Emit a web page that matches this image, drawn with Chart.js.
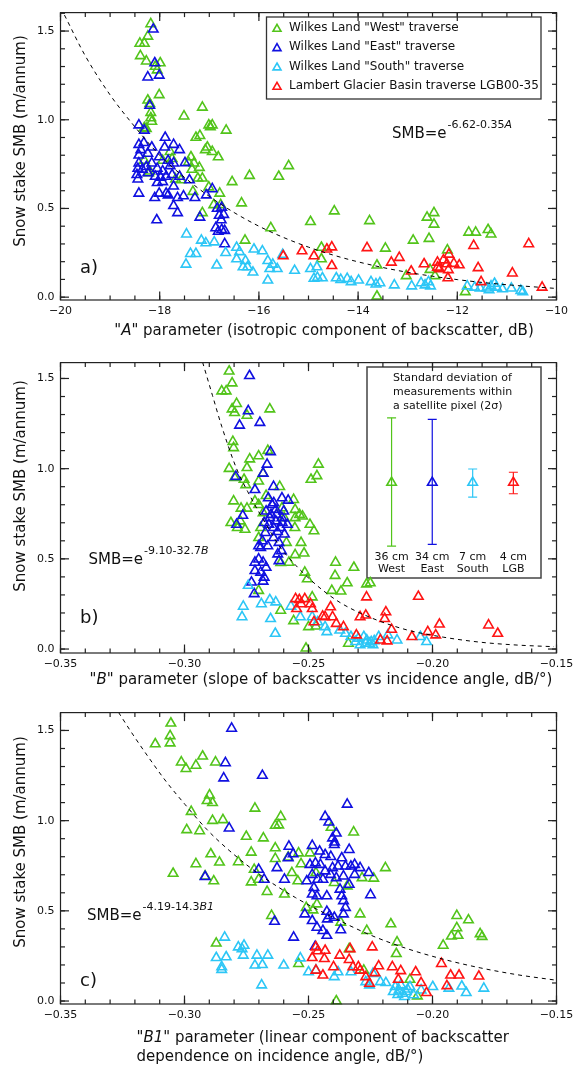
<!DOCTYPE html>
<html>
<head>
<meta charset="utf-8">
<script src="https://cdn.jsdelivr.net/npm/chart.js@4.4.1/dist/chart.umd.min.js"></script>
<style>
  body { margin: 0; background: #fff; }
  .panel { position: absolute; left: 0; }
</style>
</head>
<body>
<canvas id="chartA" class="panel" width="579" height="345" style="top:0px"></canvas>
<canvas id="chartB" class="panel" width="579" height="345" style="top:350px"></canvas>
<canvas id="chartC" class="panel" width="579" height="368" style="top:700px"></canvas>
<script>
// series names and colours
const seriesNames = ['Wilkes Land "West" traverse', 'Wilkes Land "East" traverse', 'Wilkes Land "South" traverse', 'Lambert Glacier Basin traverse LGB00-35'];
const seriesColors = ['#52c41a', '#1010e0', '#2cc6f6', '#ff1414'];

const yTicks = [0, 0.5, 1.0, 1.5];
const xTicksA = [-20, -18, -16, -14, -12, -10];
const xTicksB = [-0.35, -0.30, -0.25, -0.20, -0.15];

// ---- panel a : A parameter (dB) vs SMB ----
const westA = [[-18.18,1.54],[-18.24,1.47],[-18.31,1.43],[-18.40,1.43],[-18.39,1.36],[-18.27,1.33],[-18.09,1.30],[-17.99,1.32],[-18.05,1.28],
  [-18.01,1.14],[-18.24,1.11],[-18.20,1.09],[-18.18,1.04],[-18.18,1.01],[-18.16,0.99],[-18.27,0.95],[-18.31,0.955],
  [-17.14,1.07],[-17.51,1.02],[-17.01,0.97],[-16.94,0.97],[-16.98,0.96],[-16.66,0.94],[-17.19,0.91],[-17.27,0.90],[-17.04,0.845],
  [-17.08,0.83],[-16.94,0.82],[-16.82,0.79],[-17.79,0.82],[-17.94,0.77],[-18.31,0.77],[-17.37,0.79],[-17.42,0.76],[-17.31,0.755],
  [-17.35,0.72],[-17.20,0.73],[-18.20,0.71],[-18.22,0.70],[-17.57,0.66],[-17.68,0.665],[-17.75,0.78],[-17.23,0.67],[-17.14,0.67],
  [-16.54,0.65],[-16.19,0.685],[-15.60,0.68],[-15.40,0.74],[-17.33,0.595],[-17.01,0.62],[-16.79,0.585],[-16.91,0.52],[-16.77,0.52],
  [-17.14,0.475],[-16.35,0.53],[-16.28,0.32],[-15.76,0.39],[-14.96,0.425],[-14.48,0.485],[-13.77,0.43],[-14.74,0.28],[-14.74,0.215],
  [-13.45,0.275],[-13.62,0.18],[-13.62,0.005],[-13.03,0.12],[-12.89,0.32],[-12.61,0.45],[-12.47,0.475],[-12.47,0.41],[-12.57,0.33],
  [-12.55,0.155],[-12.45,0.12],[-12.20,0.265],[-11.77,0.365],[-11.63,0.365],[-11.38,0.38],[-11.32,0.355],[-11.84,0.03]];
const eastA = [[-18.13,1.51],[-18.10,1.32],[-18.24,1.24],[-18.01,1.25],[-18.20,1.08],[-18.42,0.97],[-18.31,0.94],[-17.89,0.90],
  [-17.72,0.86],[-17.60,0.83],[-18.42,0.86],[-18.32,0.87],[-18.16,0.845],[-18.38,0.83],[-18.42,0.80],[-18.24,0.81],[-18.01,0.79],
  [-17.90,0.845],[-17.83,0.77],[-17.72,0.755],[-17.79,0.74],[-18.42,0.755],[-18.44,0.725],[-18.35,0.72],[-18.27,0.735],[-18.16,0.755],
  [-18.05,0.725],[-18.09,0.68],[-17.98,0.675],[-17.87,0.68],[-17.75,0.69],[-17.60,0.68],[-17.94,0.71],[-18.46,0.69],[-18.44,0.665],
  [-17.94,0.65],[-18.05,0.645],[-18.24,0.70],[-17.72,0.625],[-17.49,0.757],[-17.40,0.66],[-18.42,0.585],[-18.10,0.56],[-18.01,0.585],
  [-17.87,0.585],[-17.83,0.575],[-17.72,0.515],[-17.64,0.56],[-17.52,0.57],[-17.29,0.56],[-17.06,0.575],[-16.94,0.61],[-17.64,0.475],
  [-17.19,0.45],[-18.06,0.435],[-16.84,0.50],[-16.75,0.505],[-16.80,0.46],[-16.71,0.465],[-16.76,0.435],[-16.87,0.39],[-16.75,0.38],
  [-16.69,0.375],[-16.82,0.37],[-16.69,0.30]];
const southA = [[-17.46,0.355],[-17.38,0.245],[-17.27,0.245],[-17.47,0.185],[-17.16,0.32],[-17.07,0.305],[-16.90,0.31],[-16.85,0.18],
  [-16.67,0.25],[-16.45,0.28],[-16.39,0.255],[-16.45,0.215],[-16.27,0.205],[-16.32,0.17],[-16.23,0.17],[-16.12,0.14],[-16.10,0.27],
  [-15.93,0.26],[-15.82,0.205],[-15.72,0.185],[-15.78,0.16],[-15.63,0.16],[-15.82,0.095],[-15.52,0.24],[-15.28,0.15],[-14.96,0.16],
  [-14.83,0.17],[-14.89,0.105],[-14.82,0.11],[-14.72,0.108],[-14.44,0.108],[-14.35,0.099],[-14.22,0.104],[-14.14,0.086],[-13.99,0.095],
  [-13.74,0.086],[-13.56,0.08],[-13.64,0.073],[-13.27,0.068],[-12.92,0.062],[-12.73,0.08],[-12.65,0.068],[-12.54,0.062],[-12.58,0.086],
  [-11.80,0.062],[-11.65,0.055],[-11.54,0.05],[-11.41,0.05],[-11.32,0.062],[-11.21,0.055],[-11.09,0.046],[-10.91,0.05],[-10.72,0.037],
  [-10.68,0.03],[-11.25,0.077],[-11.36,0.04]];
const lgbA = [[-15.51,0.232],[-15.13,0.26],[-14.89,0.232],[-14.63,0.27],[-14.53,0.282],[-14.53,0.177],[-13.82,0.278],[-13.33,0.196],
  [-13.17,0.223],[-12.93,0.146],[-12.67,0.187],[-12.40,0.196],[-12.28,0.209],[-12.21,0.187],[-12.36,0.159],[-12.40,0.168],[-12.17,0.241],
  [-12.18,0.154],[-12.19,0.108],[-12.07,0.19],[-11.96,0.181],[-11.67,0.29],[-11.58,0.165],[-11.52,0.086],[-10.89,0.135],[-10.56,0.30],
  [-10.29,0.055]];
const fitA = [[-19.92,1.59],[-19.5,1.36],[-19.0,1.14],[-18.5,0.96],[-18.0,0.80],[-17.5,0.675],[-17.0,0.568],[-16.5,0.477],[-16.0,0.40],
  [-15.5,0.336],[-15.0,0.282],[-14.5,0.237],[-14.0,0.199],[-13.5,0.167],[-13.0,0.14],[-12.5,0.118],[-12.0,0.099],[-11.5,0.083],
  [-11.0,0.07],[-10.5,0.059],[-10.05,0.05]];

// ---- panel b : B parameter (dB/deg) vs SMB ----
const westB = [[-0.2820,1.54],[-0.2808,1.474],[-0.2850,1.43],[-0.2832,1.43],[-0.2790,1.36],[-0.2808,1.33],[-0.2798,1.31],[-0.2748,1.295],
  [-0.2656,1.33],[-0.2805,1.15],[-0.2802,1.115],[-0.2820,1.00],[-0.2748,1.005],[-0.2737,1.053],[-0.2701,1.07],[-0.2664,1.10],
  [-0.2798,0.95],[-0.2760,0.94],[-0.2753,0.91],[-0.2683,0.974],[-0.2701,0.93],[-0.2616,0.90],[-0.2460,1.024],[-0.2466,0.96],[-0.2490,0.94],
  [-0.2802,0.82],[-0.2772,0.78],[-0.2748,0.78],[-0.2716,0.82],[-0.2671,0.85],[-0.2701,0.80],[-0.2683,0.755],[-0.2813,0.70],[-0.2787,0.672],
  [-0.2775,0.709],[-0.2756,0.663],[-0.2693,0.672],[-0.2560,0.828],[-0.2554,0.773],[-0.2536,0.745],[-0.2524,0.736],[-0.2494,0.69],
  [-0.2478,0.654],[-0.2554,0.727],[-0.2598,0.727],[-0.2607,0.782],[-0.2555,0.672],[-0.2701,0.617],[-0.2589,0.59],[-0.2530,0.59],
  [-0.2554,0.522],[-0.2518,0.531],[-0.2579,0.48],[-0.2612,0.478],[-0.2515,0.425],[-0.2505,0.388],[-0.2391,0.48],[-0.2393,0.407],
  [-0.2317,0.452],[-0.2406,0.324],[-0.2344,0.366],[-0.2369,0.32],[-0.2266,0.36],[-0.2251,0.366],[-0.2485,0.288],[-0.2701,0.324],
  [-0.2612,0.214],[-0.2560,0.156],[-0.2500,0.123],[-0.2470,0.126],[-0.2510,0.004],[-0.2339,0.031]];
const eastB = [[-0.2738,1.515],[-0.2743,1.32],[-0.2778,1.24],[-0.2696,1.255],[-0.2653,1.093],[-0.2667,1.024],[-0.2793,0.956],[-0.2683,0.974],
  [-0.2765,0.74],[-0.2790,0.69],[-0.2716,0.883],[-0.2641,0.90],[-0.2662,0.837],[-0.2647,0.80],[-0.2632,0.773],[-0.2607,0.837],[-0.2582,0.824],
  [-0.2671,0.764],[-0.2656,0.727],[-0.2632,0.709],[-0.2607,0.727],[-0.2585,0.69],[-0.2679,0.70],[-0.2641,0.672],[-0.2612,0.672],
  [-0.2674,0.645],[-0.2686,0.599],[-0.2664,0.571],[-0.2701,0.571],[-0.2641,0.617],[-0.2619,0.59],[-0.2609,0.544],[-0.2624,0.526],
  [-0.2693,0.562],[-0.2716,0.48],[-0.2701,0.498],[-0.2683,0.48],[-0.2671,0.452],[-0.2679,0.397],[-0.2716,0.434],[-0.2693,0.425],
  [-0.2730,0.37],[-0.2683,0.375],[-0.2719,0.306],[-0.2619,0.489],[-0.2600,0.764],[-0.2597,0.636],[-0.2651,0.745],[-0.2629,0.745],
  [-0.2640,0.81],[-0.2660,0.69],[-0.2625,0.65],[-0.2606,0.70]];
const southB = [[-0.2743,0.352],[-0.2763,0.236],[-0.2768,0.178],[-0.2690,0.25],[-0.2656,0.273],[-0.2632,0.26],[-0.2653,0.168],[-0.2634,0.086],
  [-0.2571,0.236],[-0.2533,0.178],[-0.2485,0.178],[-0.2463,0.15],[-0.2433,0.123],[-0.2426,0.095],[-0.2374,0.104],[-0.2351,0.086],
  [-0.2329,0.068],[-0.2299,0.059],[-0.2277,0.068],[-0.2265,0.049],[-0.2247,0.04],[-0.2269,0.031],[-0.2240,0.022],[-0.2217,0.068],
  [-0.2180,0.077],[-0.2143,0.049],[-0.2049,0.068],[-0.2024,0.04],[-0.2292,0.022],[-0.2254,0.031],[-0.2310,0.04],[-0.2235,0.045]];
const lgbB = [[-0.2552,0.278],[-0.2537,0.273],[-0.2515,0.278],[-0.2492,0.25],[-0.2485,0.223],[-0.2548,0.223],[-0.2530,0.25],[-0.2478,0.15],
  [-0.2443,0.181],[-0.2433,0.178],[-0.2411,0.233],[-0.2403,0.178],[-0.2388,0.141],[-0.2359,0.123],[-0.2307,0.077],[-0.2292,0.178],
  [-0.2269,0.187],[-0.2266,0.288],[-0.2188,0.205],[-0.2193,0.168],[-0.2165,0.108],[-0.2210,0.049],[-0.2183,0.044],[-0.2083,0.068],
  [-0.2057,0.291],[-0.2019,0.095],[-0.1987,0.077],[-0.1972,0.137],[-0.1774,0.132],[-0.1737,0.086]];
const fitB = [[-0.2927,1.59],[-0.2887,1.405],[-0.2850,1.235],[-0.2790,1.0],[-0.2746,0.875],[-0.2649,0.64],[-0.2612,0.56],[-0.2552,0.465],
  [-0.2507,0.403],[-0.2448,0.332],[-0.2373,0.258],[-0.2254,0.177],[-0.2106,0.107],[-0.1957,0.066],[-0.1808,0.038],[-0.1659,0.022],
  [-0.1510,0.013]];
// inset: 2-sigma spread within a satellite pixel
const spreadLabels = [['36 cm', 'West'], ['34 cm', 'East'], ['7 cm', 'South'], ['4 cm', 'LGB']];
const spreadX = [-0.2165, -0.2001, -0.1838, -0.1674];
const spreadMid = [0.923, 0.923, 0.923, 0.923];
const spreadLow = [0.571, 0.58, 0.842, 0.861];
const spreadHigh = [1.282, 1.273, 0.998, 0.98];

// ---- panel c : B1 parameter vs SMB ----
const westC = [[-0.3055,1.54],[-0.3058,1.47],[-0.3058,1.43],[-0.3118,1.425],[-0.2927,1.357],[-0.3013,1.324],[-0.2994,1.288],[-0.2954,1.306],
  [-0.2875,1.324],[-0.2899,1.141],[-0.2909,1.11],[-0.2887,1.099],[-0.2973,1.05],[-0.2991,0.949],[-0.2939,0.943],[-0.2887,1.0],[-0.2845,1.004],
  [-0.2716,1.068],[-0.2682,0.903],[-0.2612,1.022],[-0.2634,0.973],[-0.2620,0.975],[-0.2751,0.912],[-0.2894,0.815],[-0.2954,0.76],[-0.2859,0.769],
  [-0.2783,0.771],[-0.2731,0.824],[-0.2719,0.729],[-0.2701,0.674],[-0.2731,0.659],[-0.2917,0.692],[-0.2882,0.665],[-0.3046,0.707],
  [-0.2667,0.606],[-0.2597,0.592],[-0.2634,0.848],[-0.2634,0.789],[-0.2582,0.797],[-0.2540,0.82],[-0.2530,0.76],[-0.2567,0.711],
  [-0.2543,0.665],[-0.2494,0.82],[-0.2470,0.711],[-0.2509,0.518],[-0.2466,0.537],[-0.2482,0.504],[-0.2649,0.473],[-0.2409,0.962],
  [-0.2318,0.936],[-0.2396,0.656],[-0.2344,0.637],[-0.2284,0.683],[-0.2237,0.68],[-0.2190,0.738],[-0.2292,0.482],[-0.2370,0.436],
  [-0.2265,0.39],[-0.2168,0.427],[-0.2143,0.326],[-0.2146,0.262],[-0.2336,0.289],[-0.2277,0.17],[-0.2091,0.119],[-0.2061,0.027],
  [-0.2388,0.0],[-0.2540,0.207],[-0.2872,0.32],[-0.1957,0.308],[-0.1902,0.473],[-0.1902,0.405],[-0.1897,0.363],[-0.1924,0.359],
  [-0.1855,0.449],[-0.1808,0.372],[-0.1800,0.357]];
const eastC = [[-0.2810,1.511],[-0.2835,1.32],[-0.2842,1.236],[-0.2686,1.25],[-0.2820,0.958],[-0.2344,1.09],[-0.2433,1.022],[-0.2418,0.991],
  [-0.2917,0.689],[-0.2701,0.729],[-0.2679,0.674],[-0.2627,0.738],[-0.2597,0.674],[-0.2579,0.857],[-0.2582,0.793],[-0.2562,0.815],
  [-0.2485,0.861],[-0.2455,0.83],[-0.2433,0.811],[-0.2403,0.903],[-0.2396,0.866],[-0.2388,0.93],[-0.2336,0.839],[-0.2366,0.793],
  [-0.2494,0.756],[-0.2472,0.765],[-0.2452,0.756],[-0.2433,0.72],[-0.2403,0.738],[-0.2381,0.747],[-0.2351,0.747],[-0.2329,0.747],
  [-0.2314,0.756],[-0.2292,0.738],[-0.2257,0.711],[-0.2485,0.701],[-0.2463,0.674],[-0.2442,0.674],[-0.2411,0.701],[-0.2388,0.683],
  [-0.2359,0.692],[-0.2336,0.646],[-0.2314,0.701],[-0.2507,0.665],[-0.2478,0.628],[-0.2485,0.592],[-0.2466,0.582],[-0.2426,0.582],
  [-0.2373,0.619],[-0.2366,0.582],[-0.2359,0.555],[-0.2351,0.518],[-0.2359,0.482],[-0.2426,0.496],[-0.2415,0.473],[-0.2396,0.463],
  [-0.2424,0.454],[-0.2515,0.482],[-0.2485,0.445],[-0.2466,0.408],[-0.2442,0.39],[-0.2426,0.363],[-0.2370,0.394],[-0.2250,0.588],
  [-0.2637,0.441],[-0.2560,0.353],[-0.2473,0.302],[-0.2410,0.80],[-0.2395,0.88]];
const southC = [[-0.2838,0.353],[-0.2872,0.24],[-0.2832,0.244],[-0.2850,0.189],[-0.2850,0.174],[-0.2783,0.299],[-0.2768,0.289],[-0.2760,0.308],
  [-0.2763,0.253],[-0.2708,0.253],[-0.2686,0.201],[-0.2716,0.198],[-0.2664,0.253],[-0.2689,0.088],[-0.2600,0.198],[-0.2533,0.238],
  [-0.2500,0.161],[-0.2470,0.17],[-0.2396,0.134],[-0.2381,0.161],[-0.2329,0.161],[-0.2269,0.106],[-0.2240,0.152],[-0.2210,0.106],
  [-0.2188,0.101],[-0.2150,0.079],[-0.2135,0.06],[-0.2120,0.042],[-0.2106,0.051],[-0.2091,0.079],[-0.2128,0.088],[-0.2158,0.051],
  [-0.2113,0.024],[-0.2076,0.033],[-0.2046,0.06],[-0.1999,0.079],[-0.1934,0.07],[-0.1882,0.082],[-0.1864,0.046],[-0.1793,0.07],
  [-0.2254,0.088],[-0.2140,0.035],[-0.2100,0.065]];
const lgbC = [[-0.2470,0.299],[-0.2463,0.277],[-0.2485,0.24],[-0.2433,0.28],[-0.2436,0.234],[-0.2470,0.17],[-0.2442,0.143],[-0.2399,0.189],
  [-0.2374,0.253],[-0.2336,0.229],[-0.2332,0.289],[-0.2321,0.189],[-0.2299,0.189],[-0.2292,0.17],[-0.2269,0.134],[-0.2254,0.097],
  [-0.2243,0.299],[-0.2232,0.156],[-0.2217,0.194],[-0.2162,0.189],[-0.2128,0.167],[-0.2138,0.119],[-0.2068,0.161],[-0.2046,0.101],
  [-0.2024,0.046],[-0.1964,0.207],[-0.1927,0.143],[-0.1893,0.143],[-0.1942,0.084],[-0.1813,0.137]];
const fitC = [[-0.3266,1.60],[-0.3207,1.475],[-0.3147,1.355],[-0.3073,1.215],[-0.2998,1.09],[-0.2909,0.95],[-0.2820,0.835],[-0.2701,0.705],
  [-0.2552,0.573],[-0.2403,0.465],[-0.2254,0.368],[-0.2106,0.292],[-0.1957,0.232],[-0.1808,0.184],[-0.1659,0.146],[-0.1510,0.117]];

const FONT = '"DejaVu Sans", sans-serif';
const INK = '#111';

function toPts(arr) {
  return arr.map(p => ({x: p[0], y: p[1]}));
}

function fmtNum(v, digits) {
  return (v < 0 ? '\u2212' : '') + Math.abs(v).toFixed(digits);
}

// draws text made of plain / italic pieces
function richText(ctx, parts, x, y, size, align) {
  let w = 0;
  parts.forEach(p => {
    ctx.font = (p[1] ? 'italic ' : '') + size + 'px ' + FONT;
    w += ctx.measureText(p[0]).width;
  });
  let cx = align === 'center' ? x - w / 2 : x;
  ctx.textAlign = 'left';
  ctx.textBaseline = 'middle';
  parts.forEach(p => {
    ctx.font = (p[1] ? 'italic ' : '') + size + 'px ' + FONT;
    ctx.fillText(p[0], cx, y);
    cx += ctx.measureText(p[0]).width;
  });
  return cx;
}

function triangle(ctx, x, y, r, color) {
  ctx.beginPath();
  for (let k = 0; k < 3; k++) {
    const a = k * 2 * Math.PI / 3;
    const px = x + Math.sin(a) * r, py = y - Math.cos(a) * r;
    k === 0 ? ctx.moveTo(px, py) : ctx.lineTo(px, py);
  }
  ctx.closePath();
  ctx.strokeStyle = color;
  ctx.lineWidth = 1.6;
  ctx.stroke();
}

// frame, inward ticks and annotation text
function decor(p) {
  return {
    id: 'decor',
    beforeDatasetsDraw(chart) {
      if (!p.inset) return;
      const ctx = chart.ctx;
      ctx.save();
      ctx.fillStyle = '#fff';
      ctx.fillRect(367, 17, 174, 211);
      ctx.strokeStyle = '#444';
      ctx.lineWidth = 1.5;
      ctx.strokeRect(367, 17, 174, 211);
      ctx.fillStyle = INK;
      ctx.font = '11px ' + FONT;
      ctx.textAlign = 'left';
      ctx.textBaseline = 'middle';
      ['Standard deviation of', 'measurements within', 'a satellite pixel (2\u03c3)'].forEach((t, i) => ctx.fillText(t, 393, 28 + i * 14));
      ctx.textAlign = 'center';
      spreadLabels.forEach((lab, i) => {
        const px = chart.scales.x.getPixelForValue(spreadX[i]);
        ctx.fillText(lab[0], px, 207);
        ctx.fillText(lab[1], px, 219);
      });
      ctx.restore();
    },
    afterDraw(chart) {
      const {ctx, chartArea: a, scales: {x, y}} = chart;
      ctx.save();
      ctx.strokeStyle = '#222';
      ctx.lineWidth = 1.2;
      const seg = (x1, y1, x2, y2) => { ctx.beginPath(); ctx.moveTo(x1, y1); ctx.lineTo(x2, y2); ctx.stroke(); };
      const ticksOn = (scale, step, len, horiz) => {
        const n0 = Math.ceil(scale.min / step - 1e-6), n1 = Math.floor(scale.max / step + 1e-6);
        for (let n = n0; n <= n1; n++) {
          const px = scale.getPixelForValue(n * step);
          if (horiz) { seg(px, a.bottom, px, a.bottom - len); seg(px, a.top, px, a.top + len); }
          else { seg(a.left, px, a.left + len, px); seg(a.right, px, a.right - len, px); }
        }
      };
      ticksOn(x, p.xMinor, 4.5, true);
      ticksOn(x, p.xMajor, 8.5, true);
      ticksOn(y, 0.1, 4.5, false);
      ticksOn(y, 0.5, 8.5, false);
      ctx.strokeRect(a.left, a.top, a.right - a.left, a.bottom - a.top);

      ctx.fillStyle = INK;
      // y title
      ctx.save();
      ctx.translate(21, p.yTitleY);
      ctx.rotate(-Math.PI / 2);
      richText(ctx, [['Snow stake SMB (m/annum)', 0]], 0, 0, 15, 'center');
      ctx.restore();
      // x title
      p.xTitle.forEach((line, i) => richText(ctx, line, p.xTitleX, p.xTitleY + i * 19, 15, p.xTitleAlign));
      // panel letter
      richText(ctx, [[p.letter, 0]], 80, p.letterY, 18, 'left');
      // fit equation
      const ex = richText(ctx, [['SMB=e', 0]], p.eq[0], p.eq[1], 15, 'left');
      richText(ctx, p.eqSup, ex + 1, p.eq[1] - 9, 11, 'left');
      // legend
      if (p.legend) {
        ctx.strokeStyle = '#333';
        ctx.lineWidth = 1.3;
        ctx.strokeRect(266.5, 17, 274.5, 82);
        seriesNames.forEach((name, i) => {
          const cy = 28 + i * 19.3;
          triangle(ctx, 277, cy + 1, 4.6, seriesColors[i]);
          ctx.fillStyle = INK;
          richText(ctx, [[name, 0]], 289, cy, 12, 'left');
        });
      }
      ctx.restore();
    }
  };
}

function scatterSet(i, arr) {
  return {
    type: 'scatter',
    label: seriesNames[i],
    data: toPts(arr),
    pointStyle: 'triangle',
    pointRadius: 5.5,
    pointBorderWidth: 1.6,
    pointBorderColor: seriesColors[i],
    pointBackgroundColor: 'rgba(0,0,0,0)',
    clip: false,
    order: 4 - i
  };
}

function fitSet(arr) {
  return {
    type: 'line',
    data: toPts(arr),
    borderColor: '#000',
    borderWidth: 1,
    borderDash: [4, 4],
    pointRadius: 0,
    cubicInterpolationMode: 'monotone',
    order: 0
  };
}

function makePanel(id, p) {
  const datasets = [scatterSet(0, p.series[0]), scatterSet(1, p.series[1]), scatterSet(2, p.series[2]), scatterSet(3, p.series[3]), fitSet(p.fit)];
  if (p.inset) {
    spreadX.forEach((sx, i) => {
      datasets.push({
        type: 'line',
        data: [{x: sx, y: spreadLow[i]}, {x: sx, y: spreadMid[i]}, {x: sx, y: spreadHigh[i]}],
        borderColor: seriesColors[i],
        borderWidth: 1.2,
        pointStyle: ['line', 'triangle', 'line'],
        pointRadius: [4.5, 5.5, 4.5],
        pointBorderWidth: [1.2, 1.6, 1.2],
        pointBorderColor: seriesColors[i],
        pointBackgroundColor: 'rgba(0,0,0,0)',
        order: -1
      });
    });
  }
  new Chart(document.getElementById(id), {
    type: 'scatter',
    data: {datasets},
    options: {
      responsive: false,
      animation: false,
      layout: {padding: {top: p.top, right: 22.5, left: 0, bottom: 0}},
      plugins: {legend: {display: false}, tooltip: {enabled: false}},
      scales: {
        x: {
          type: 'linear', min: p.xMin, max: p.xMax,
          grid: {display: false, drawTicks: false, tickLength: 0},
          border: {display: false},
          ticks: {font: {family: FONT, size: 11}, color: INK, padding: 5, maxRotation: 0, autoSkip: false,
                  callback: v => fmtNum(v, p.xDigits)},
          afterBuildTicks: s => { s.ticks = p.xTicks.map(v => ({value: v})); },
          afterFit: s => { s.height = p.xh; }
        },
        y: {
          type: 'linear', min: p.yMin, max: p.yMax,
          grid: {display: false, drawTicks: false, tickLength: 0},
          border: {display: false},
          ticks: {font: {family: FONT, size: 11}, color: INK, padding: 6, callback: v => v.toFixed(1)},
          afterBuildTicks: s => { s.ticks = yTicks.map(v => ({value: v})); },
          afterFit: s => { s.width = 60.5; }
        }
      }
    },
    plugins: [decor(p)]
  });
}

makePanel('chartA', {
  series: [westA, eastA, southA, lgbA], fit: fitA,
  xMin: -20, xMax: -10, xTicks: xTicksA, xDigits: 0, xMajor: 2, xMinor: 0.5,
  yMin: -0.016, yMax: 1.604, top: 5, xh: 45,
  yTitleY: 141, xTitleX: 324, xTitleY: 331, xTitleAlign: 'center',
  xTitle: [[['"', 0], ['A', 1], ['" parameter (isotropic component of backscatter, dB)', 0]]],
  letter: 'a)', letterY: 268, eq: [392, 134], eqSup: [['-6.62-0.35', 0], ['A', 1]], legend: true
});

makePanel('chartB', {
  series: [westB, eastB, southB, lgbB], fit: fitB,
  xMin: -0.35, xMax: -0.15, xTicks: xTicksB, xDigits: 2, xMajor: 0.05, xMinor: 0.01,
  yMin: -0.022, yMax: 1.588, top: 10, xh: 42,
  yTitleY: 136, xTitleX: 321, xTitleY: 330, xTitleAlign: 'center',
  xTitle: [[['"', 0], ['B', 1], ['" parameter (slope of backscatter vs incidence angle, dB/\u00b0)', 0]]],
  letter: 'b)', letterY: 268, eq: [88.5, 210], eqSup: [['-9.10-32.7', 0], ['B', 1]], inset: true
});

makePanel('chartC', {
  series: [westC, eastC, southC, lgbC], fit: fitC,
  xMin: -0.35, xMax: -0.15, xTicks: xTicksB, xDigits: 2, xMajor: 0.05, xMinor: 0.01,
  yMin: -0.0165, yMax: 1.599, top: 10, xh: 64,
  yTitleY: 142, xTitleX: 136.5, xTitleY: 338, xTitleAlign: 'left',
  xTitle: [[['"', 0], ['B1', 1], ['" parameter (linear component of backscatter', 0]],
           [['dependence on incidence angle, dB/\u00b0)', 0]]],
  letter: 'c)', letterY: 281, eq: [87, 216], eqSup: [['-4.19-14.3', 0], ['B1', 1]]
});
</script>
</body>
</html>
